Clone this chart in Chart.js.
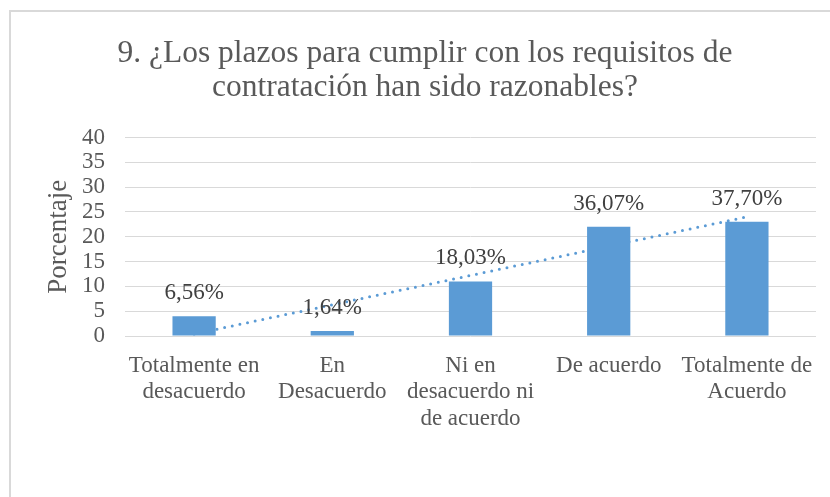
<!DOCTYPE html>
<html>
<head>
<meta charset="utf-8">
<script src="https://cdn.jsdelivr.net/npm/chart.js@4/dist/chart.umd.min.js"></script>
<style>
  html, body { margin: 0; padding: 0; background: #ffffff; }
  #wrap { position: relative; width: 830px; height: 497px; overflow: hidden; background: #ffffff; }
  #frame { position: absolute; left: 9px; top: 10px; width: 900px; height: 600px; border: 2px solid #d9d9d9; box-sizing: border-box; pointer-events: none; }
  canvas { position: absolute; left: 0; top: 0; }
</style>
</head>
<body>
<div id="wrap">
  <canvas id="c" width="830" height="497"></canvas>
  <div id="frame"></div>
</div>
<script>
// ---- data ----
const titleLines = ['9. ¿Los plazos para cumplir con los requisitos de', 'contratación han sido razonables?'];
const categories = [
  ['Totalmente en', 'desacuerdo'],
  ['En', 'Desacuerdo'],
  ['Ni en', 'desacuerdo ni', 'de acuerdo'],
  'De acuerdo',
  ['Totalmente de', 'Acuerdo']
];
const counts = [4, 1, 11, 22, 23];
const percentLabels = ['6,56%', '1,64%', '18,03%', '36,07%', '37,70%'];
const trendValues = [0.4, 6.3, 12.2, 18.1, 24.0];
const yTicksMin = 0, yTicksMax = 40, yTicksStep = 5;
const yAxisTitle = 'Porcentaje';

const FONT = '"Liberation Serif", "Times New Roman", serif';
const BLUE = '#5B9BD5';

const titlePlugin = {
  id: 'customTitle',
  afterDraw(chart) {
    const ctx = chart.ctx;
    ctx.save();
    ctx.font = '31.5px ' + FONT;
    ctx.fillStyle = '#595959';
    ctx.textAlign = 'center';
    ctx.textBaseline = 'alphabetic';
    const baselines = [61.5, 96];
    titleLines.forEach((t, i) => ctx.fillText(t, 425, baselines[i]));
    ctx.restore();
  }
};

const barLabelPlugin = {
  id: 'barLabels',
  afterDatasetsDraw(chart) {
    const meta = chart.getDatasetMeta(0);
    const ctx = chart.ctx;
    ctx.save();
    ctx.font = '23px ' + FONT;
    ctx.fillStyle = '#404040';
    ctx.textAlign = 'center';
    ctx.textBaseline = 'alphabetic';
    meta.data.forEach((bar, i) => {
      ctx.fillText(percentLabels[i], bar.x, bar.y - 17);
    });
    ctx.restore();
  }
};

new Chart(document.getElementById('c'), {
  data: {
    labels: categories,
    datasets: [
      {
        type: 'bar',
        data: counts,
        backgroundColor: BLUE,
        borderWidth: 0,
        barPercentage: 0.313,
        categoryPercentage: 1.0,
        order: 1
      },
      {
        type: 'line',
        data: trendValues,
        borderColor: BLUE,
        borderWidth: 3,
        borderDash: [0, 7.8],
        borderCapStyle: 'round',
        pointRadius: 0,
        fill: false,
        tension: 0,
        order: 2
      }
    ]
  },
  options: {
    responsive: false,
    devicePixelRatio: 1,
    animation: false,
    events: [],
    layout: { padding: { top: 137.5, left: 30, right: 14, bottom: 0 } },
    plugins: {
      legend: { display: false },
      title: { display: false },
      tooltip: { enabled: false }
    },
    scales: {
      x: {
        grid: { display: false, drawTicks: false },
        border: { display: false },
        ticks: {
          color: '#595959',
          font: { family: FONT, size: 23, lineHeight: 1.17 },
          maxRotation: 0,
          minRotation: 0,
          autoSkip: false,
          padding: 16
        },
        afterFit(scale) { scale.height = 161; }
      },
      y: {
        min: yTicksMin,
        max: yTicksMax,
        grid: { color: '#d9d9d9', lineWidth: 1, drawTicks: false },
        border: { display: false },
        ticks: {
          stepSize: yTicksStep,
          autoSkip: false,
          color: '#595959',
          font: { family: FONT, size: 23, lineHeight: 1 },
          padding: 20
        },
        title: {
          display: true,
          text: yAxisTitle,
          color: '#595959',
          font: { family: FONT, size: 27 },
          padding: { top: 13, bottom: 0 }
        },
        afterFit(scale) { scale.width = 95; }
      }
    }
  },
  plugins: [titlePlugin, barLabelPlugin]
});
</script>
</body>
</html>
